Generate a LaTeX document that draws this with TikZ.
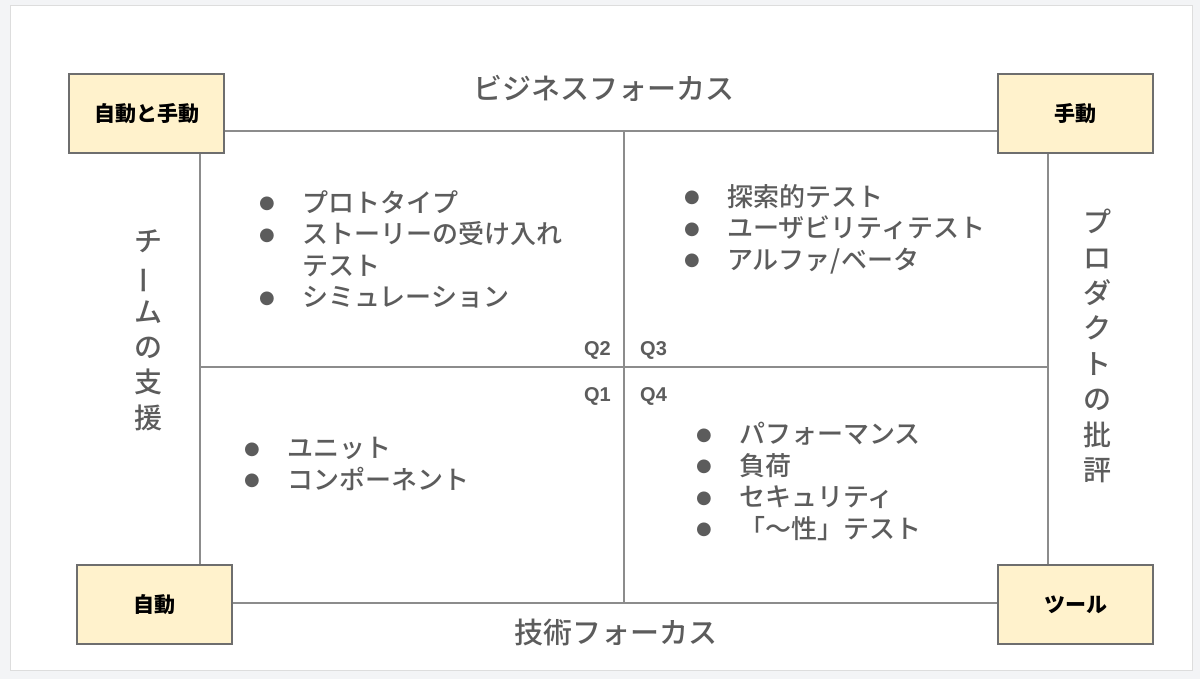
\documentclass[tikz,border=0pt]{standalone}
\usepackage{fontspec}
\setmainfont{Noto Sans CJK JP}
\newfontfamily\medfont{Noto Sans CJK JP}[UprightFont=* Medium]
\newfontfamily\latinfont{Liberation Sans}
\newfontfamily\dotfont{DejaVu Sans}
\usepackage{graphicx}
\usetikzlibrary{positioning}
\definecolor{pagebg}{HTML}{F3F4F6}
\definecolor{cardline}{HTML}{DDDDDD}
\definecolor{boxfill}{HTML}{FFF2CC}
\definecolor{boxline}{HTML}{6E6E6E}
\definecolor{gridline}{HTML}{8C8C8C}
\definecolor{labelgray}{HTML}{5C5C5C}
\tikzset{
  cornerbox/.style={draw=boxline,fill=boxfill,line width=1.2pt,minimum width=155pt,minimum height=79pt,inner sep=0pt,font=\fontsize{21}{21}\selectfont\bfseries,text=black},
  frame/.style={draw=gridline,line width=1.5pt},
  axislabel/.style={text=labelgray,font=\fontsize{29}{29}\selectfont\medfont,inner sep=0pt},
  sidelabel/.style={text=labelgray,font=\fontsize{28}{35.4}\selectfont\medfont,align=center,inner sep=0pt},
  itemlist/.style={text=labelgray,font=\fontsize{26}{31.5}\selectfont\medfont,align=left,inner sep=0pt,anchor=north west},
  qlabel/.style={text=labelgray,font=\fontsize{20}{20}\selectfont\latinfont\bfseries,inner sep=0pt},
}
\newcommand\bul{\makebox[43pt][l]{\raisebox{3.5pt}{\dotfont\fontsize{18}{18}\selectfont ●}}}
\newcommand\choon{\rotatebox[origin=c]{90}{ー}}

\begin{document}
\begin{tikzpicture}[x=1pt,y=-1pt]
  \fill[pagebg] (0,0) rectangle (1200,679);
  \useasboundingbox (0,0) rectangle (1200,679);
  \draw[cardline,fill=white,line width=1pt] (10,6) rectangle (1192,670);

  % quadrant frame
  \coordinate (nw) at (200,131);
  \coordinate (se) at (1048,603);
  \coordinate (topmid) at (624,131);
  \coordinate (botmid) at (624,603);
  \coordinate (leftmid) at (200,367);
  \coordinate (rightmid) at (1048,367);
  \draw[frame] (nw) rectangle (se);
  \draw[frame] (topmid) -- (botmid);
  \draw[frame] (leftmid) -- (rightmid);

  % corner boxes
  \node[cornerbox] (both) at (146.5,113.5) {自動と手動};
  \node[cornerbox] (manual) at (1075.5,113.5) {手動};
  \node[cornerbox] (auto) at (154.5,604.5) {自動};
  \node[cornerbox] (tools) at (1075.5,604.5) {ツール};

  % axis labels
  \node[axislabel] (business) at (603.5,88) {ビジネスフォーカス};
  \node[axislabel] (tech) at (616,632) {技術フォーカス};
  \node[sidelabel] (support) at (148,330) {チ\\\choon\\ム\\の\\支\\援};
  \node[sidelabel] (critique) at (1097,346) {プ\\ロ\\ダ\\ク\\ト\\の\\批\\評};

  % quadrant contents
  \node[itemlist] (q2list) at (259,190) {\bul プロトタイプ\\\bul ストーリーの受け入れ\\\hspace*{43pt}テスト\\\bul シミュレーション};
  \node[itemlist] (q3list) at (684,184) {\bul 探索的テスト\\\bul ユーザビリティテスト\\\bul アルファ/ベータ};
  \node[itemlist] (q1list) at (244,437) {\bul ユニット\\\bul コンポーネント};
  \node[itemlist] (q4list) at (696,422) {\bul パフォーマンス\\\bul 負荷\\\bul セキュリティ\\\bul 「～性」テスト};

  \node[qlabel,anchor=base east] (q2) at (611,355) {Q2};
  \node[qlabel,anchor=base west] (q3) at (640,355) {Q3};
  \node[qlabel,anchor=base east] (q1) at (611,401) {Q1};
  \node[qlabel,anchor=base west] (q4) at (640,401) {Q4};
\end{tikzpicture}
\end{document}
